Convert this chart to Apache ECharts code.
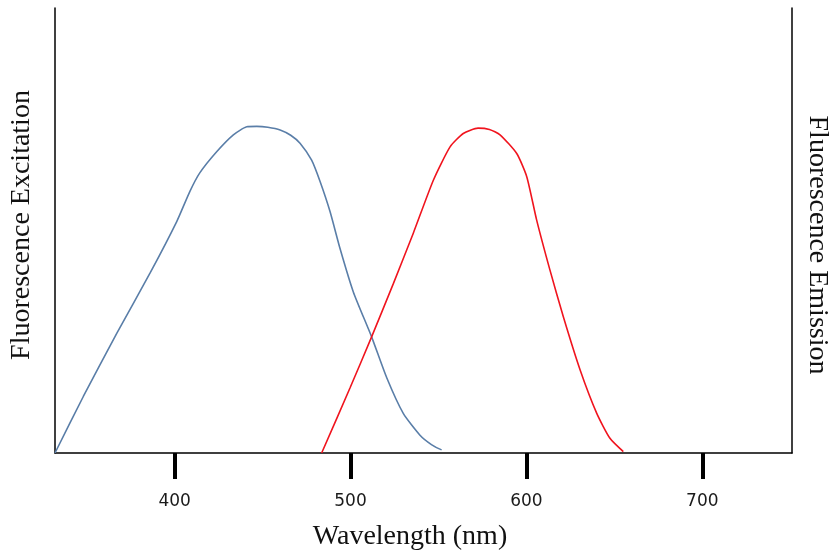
<!DOCTYPE html>
<html>
<head>
<meta charset="utf-8">
<script src="https://cdn.jsdelivr.net/npm/echarts@6/dist/echarts.min.js"></script>
<style>html,body{margin:0;padding:0;background:#fff}#c{width:833px;height:556px}</style>
</head>
<body>
<div id="c"></div>
<script>
// Wavelength (nm) and relative intensity (%)
const excitationX = [332.0, 348.1, 367.1, 386.0, 401.2, 408.7, 414.4, 423.9, 433.4, 441.0, 446.7, 453.0, 460.0, 466.0, 471.3, 477.9, 482.7, 488.4, 494.0, 501.6, 512.0, 520.6, 530.0, 539.5, 546.0, 551.8];
const excitationY = [0, 12.7, 26.9, 40.4, 52.0, 58.8, 63.0, 67.7, 71.5, 73.3, 73.4, 73.2, 72.6, 71.4, 69.6, 65.8, 61.0, 54.2, 46.0, 36.2, 26.1, 16.9, 8.9, 4.0, 1.9, 0.7];
const emissionX = [483.6, 499.7, 512.0, 524.3, 535.7, 547.1, 556.6, 564.1, 572.5, 579.0, 585.0, 594.5, 600.2, 605.8, 613.4, 621.0, 630.5, 640.0, 647.5, 655.1];
const emissionY = [0, 14.6, 26.1, 38.0, 49.4, 61.3, 68.8, 71.8, 73.0, 72.7, 71.5, 67.3, 62.1, 52.4, 41.1, 30.6, 18.7, 8.9, 3.3, 0.3];
const tickValues = [400, 500, 600, 700];
const xTitle = 'Wavelength (nm)';
const yLeftTitle = 'Fluorescence Excitation';
const yRightTitle = 'Fluorescence Emission';

const pairs = (xs, ys) => xs.map((x, i) => [x, ys[i]]);
const chart = echarts.init(document.getElementById('c'), null, {renderer: 'canvas'});
const serif = '"Liberation Serif", "DejaVu Serif", serif';
chart.setOption({
  animation: false,
  backgroundColor: '#fff',
  grid: {left: 55, right: 41, top: 8, bottom: 103, containLabel: false, outerBoundsMode: 'none'},
  xAxis: {
    type: 'value', min: 332, max: 751,
    axisLine: {show: true, lineStyle: {color: '#000', width: 1.5}},
    axisTick: {show: true, length: 26, inside: false, customValues: tickValues, lineStyle: {color: '#000', width: 4}},
    axisLabel: {customValues: tickValues, margin: 40, color: '#1a1a1a', fontSize: 17, fontFamily: '"DejaVu Sans", sans-serif'},
    splitLine: {show: false},
    name: xTitle, nameLocation: 'middle', nameGap: 70,
    nameTextStyle: {fontFamily: serif, fontSize: 28, color: '#111', padding: [0, 27, 0, 0]}
  },
  yAxis: [{
    type: 'value', min: 0, max: 100, position: 'left',
    axisLine: {show: true, lineStyle: {color: '#000', width: 1.5}},
    axisTick: {show: false}, axisLabel: {show: false}, splitLine: {show: false},
    name: yLeftTitle, nameLocation: 'middle', nameGap: 19, nameRotate: 90,
    nameTextStyle: {fontFamily: serif, fontSize: 28, color: '#111', padding: [0, 0, 0, 11]}
  }, {
    type: 'value', min: 0, max: 100, position: 'right',
    axisLine: {show: true, lineStyle: {color: '#000', width: 1.5}},
    axisTick: {show: false}, axisLabel: {show: false}, splitLine: {show: false},
    name: yRightTitle, nameLocation: 'middle', nameGap: 11, nameRotate: -90,
    nameTextStyle: {fontFamily: serif, fontSize: 28, color: '#111', padding: [0, 0, 0, 29]}
  }],
  series: [{
    type: 'line', name: 'Excitation', yAxisIndex: 0, data: pairs(excitationX, excitationY),
    smooth: 0.2, showSymbol: false, lineStyle: {color: '#5a7ea8', width: 1.6}
  }, {
    type: 'line', name: 'Emission', yAxisIndex: 1, data: pairs(emissionX, emissionY),
    smooth: 0.2, showSymbol: false, lineStyle: {color: '#f0141e', width: 1.6}
  }]
});
</script>
</body>
</html>
